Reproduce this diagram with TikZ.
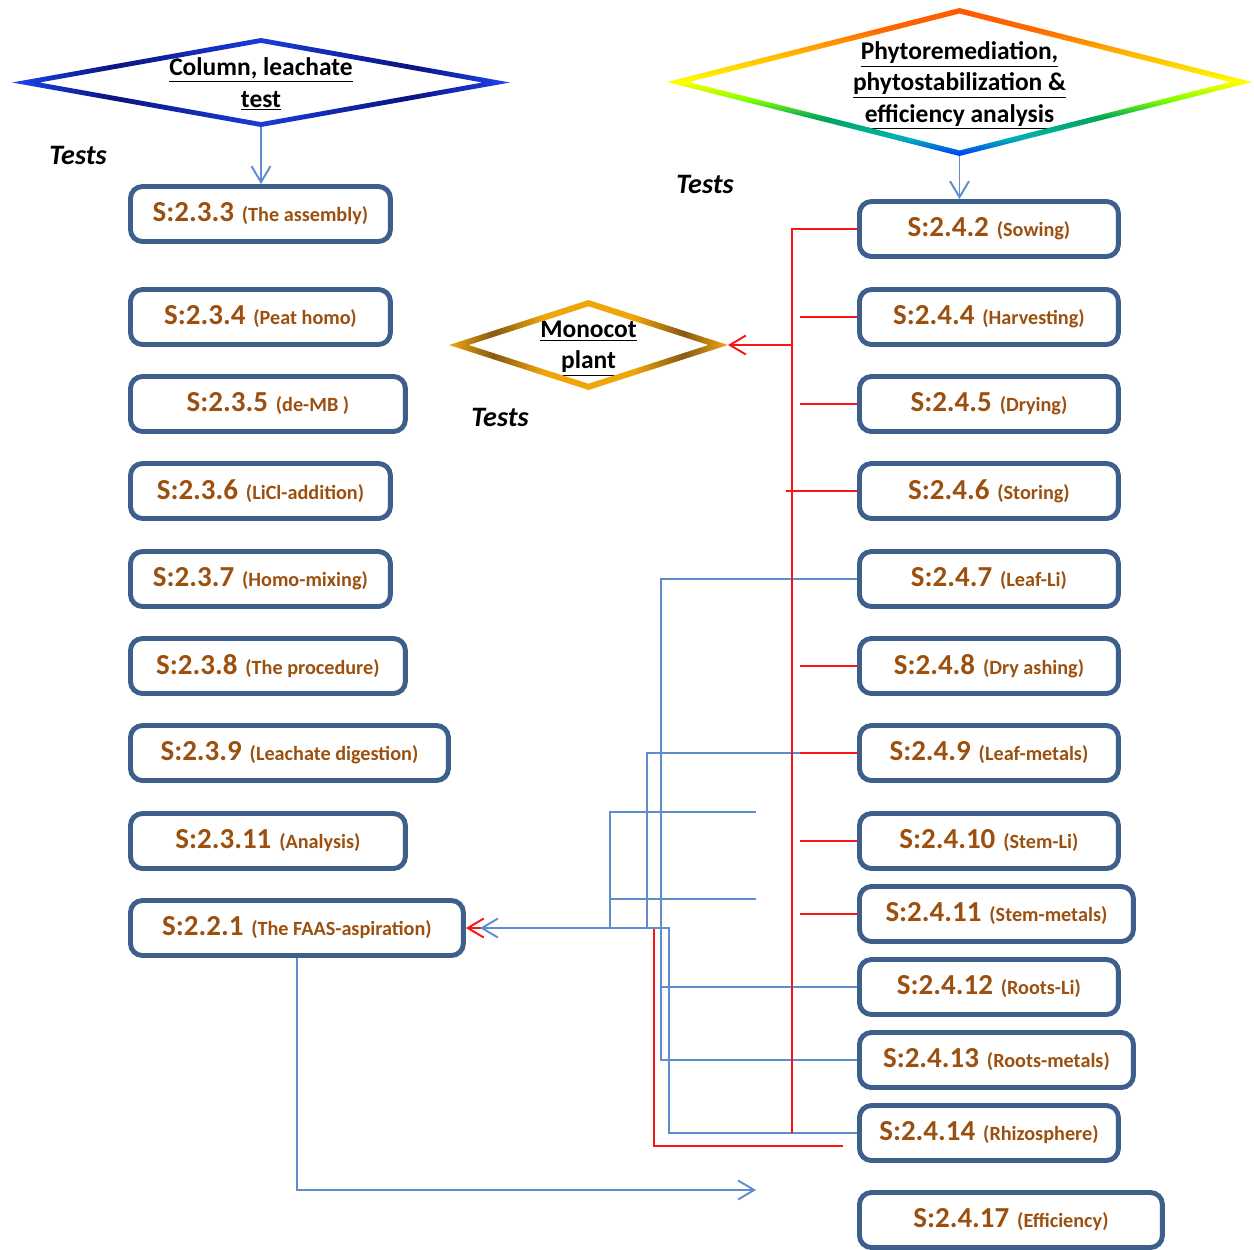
\documentclass[tikz,border=0pt]{standalone}
\usepackage{fontspec}
\setmainfont{Carlito}
\usetikzlibrary{shapes.geometric,arrows.meta,calc}

\definecolor{cajaazul}{RGB}{60,95,140}
\definecolor{cafe}{RGB}{155,80,15}
\definecolor{enlaceazul}{RGB}{95,140,205}
\definecolor{enlacerojo}{RGB}{250,20,20}
\definecolor{azulclaro}{RGB}{30,70,240}
\definecolor{marino}{RGB}{10,20,130}
\definecolor{oro}{RGB}{240,165,10}
\definecolor{oroscuro}{RGB}{135,90,20}

% sombras de los bordes de los rombos
\pgfdeclarehorizontalshading{colsombra}{100bp}{color(0bp)=(azulclaro); color(25bp)=(azulclaro);
  color(35bp)=(marino); color(50bp)=(azulclaro!80!marino); color(65bp)=(marino);
  color(75bp)=(azulclaro); color(100bp)=(azulclaro)}
\pgfdeclareverticalshading{arcoiris}{100bp}{color(0bp)=(blue!80!cyan); color(25bp)=(blue!80!cyan);
  color(31bp)=(teal!60!cyan); color(38bp)=(teal!70!green); color(44bp)=(yellow!50!green);
  color(50bp)=(yellow); color(60bp)=(orange!60!yellow); color(68bp)=(orange!80!red);
  color(75bp)=(orange!70!red); color(100bp)=(orange!70!red)}
\pgfdeclarehorizontalshading{orosombra}{100bp}{color(0bp)=(oro); color(25bp)=(oro);
  color(33bp)=(oroscuro); color(42bp)=(oro); color(50bp)=(oro); color(58bp)=(oro);
  color(67bp)=(oroscuro); color(75bp)=(oro); color(100bp)=(oro)}

\newcommand{\seccion}[2]{{\fontsize{16.5}{19}\selectfont #1}\hspace{4.5pt}{\fontsize{11.5}{14}\selectfont(#2)}}
% borde sombreado de un rombo: nombre, factor interior, sombra
\newcommand{\bordeRombo}[3]{%
  \shade[shading=#3, even odd rule] (#1.west) -- (#1.north) -- (#1.east) -- (#1.south) -- cycle
    ($(#1.center)!#2!(#1.west)$) -- ($(#1.center)!#2!(#1.north)$)
    -- ($(#1.center)!#2!(#1.east)$) -- ($(#1.center)!#2!(#1.south)$) -- cycle;}

\begin{document}
\begin{tikzpicture}[x=0.02cm, y=-0.02cm,
  caja/.style={draw=cajaazul, line width=2.8pt, rounded corners=0.24cm, minimum width=#1,
    minimum height=1.1cm, anchor=west, text=cafe, font=\bfseries},
  caja/.default=5.18cm,
  rombo/.style={diamond, inner sep=0pt, outer sep=0pt, align=center, text depth=-3pt,
    font=\bfseries\fontsize{14.5}{17.8}\selectfont},
  prueba/.style={font=\bfseries\itshape\fontsize{16}{19}\selectfont},
  azul/.style={draw=enlaceazul, line width=1.1pt},
  rojo/.style={draw=enlacerojo, line width=1.1pt},
  punta/.style={-{Straight Barb[length=0.32cm, width=0.38cm]}}]

    \useasboundingbox (0,0) rectangle (1254,1249);

    % Paso 1: rombos de los ensayos
    \node[rombo, aspect=5.6, minimum width=9.96cm, minimum height=1.78cm] (colleach) at (261,82.5)
        {\underline{Column, leachate}\\\underline{test}};
    \bordeRombo{colleach}{0.89}{colsombra}
    \node[rombo, aspect=3.95, minimum width=11.7cm, minimum height=2.96cm] (phyto) at (959.5,82)
        {\underline{Phytoremediation,}\\\underline{phytostabilization \&}\\\underline{efficiency analysis}};
    \bordeRombo{phyto}{0.925}{arcoiris}
    \node[rombo, aspect=3.1, minimum width=5.58cm, minimum height=1.8cm] (monocot) at (588.5,345)
        {\underline{Monocot}\\\underline{plant}};
    \bordeRombo{monocot}{0.86}{orosombra}

    % Paso 2: rotulos
    \node[prueba] (t1) at (78,155) {Tests};
    \node[prueba] (t2) at (705,184) {Tests};
    \node[prueba] (t3) at (500,417) {Tests};

    % Paso 3: columna izquierda
    \node[caja=5.2cm] (b233) at (128,214) {\seccion{S:2.3.3}{The assembly}};
    \node[caja=5.2cm] (b234) at (128,317) {\seccion{S:2.3.4}{Peat homo}};
    \node[caja=5.5cm] (b235) at (128,404) {\seccion{S:2.3.5}{de-MB\ }};
    \node[caja=5.2cm] (b236) at (128,491) {\seccion{S:2.3.6}{LiCl-addition}};
    \node[caja=5.2cm] (b237) at (128,579) {\seccion{S:2.3.7}{Homo-mixing}};
    \node[caja=5.5cm] (b238) at (128,666) {\seccion{S:2.3.8}{The procedure}};
    \node[caja=6.36cm] (b239) at (128,753) {\seccion{S:2.3.9}{Leachate digestion}};
    \node[caja=5.5cm] (b2311) at (128,841) {\seccion{S:2.3.11}{Analysis}};
    \node[caja=6.66cm] (b221) at (128,928) {\seccion{S:2.2.1}{The FAAS-aspiration}};

    % Paso 4: columna derecha
    \node[caja] (b242) at (857,229) {\seccion{S:2.4.2}{Sowing}};
    \node[caja] (b244) at (857,317) {\seccion{S:2.4.4}{Harvesting}};
    \node[caja] (b245) at (857,404) {\seccion{S:2.4.5}{Drying}};
    \node[caja] (b246) at (857,491) {\seccion{S:2.4.6}{Storing}};
    \node[caja] (b247) at (857,579) {\seccion{S:2.4.7}{Leaf-Li}};
    \node[caja] (b248) at (857,666) {\seccion{S:2.4.8}{Dry ashing}};
    \node[caja] (b249) at (857,753) {\seccion{S:2.4.9}{Leaf-metals}};
    \node[caja] (b2410) at (857,841) {\seccion{S:2.4.10}{Stem-Li}};
    \node[caja=5.48cm] (b2411) at (857,914) {\seccion{S:2.4.11}{Stem-metals}};
    \node[caja] (b2412) at (857,987) {\seccion{S:2.4.12}{Roots-Li}};
    \node[caja=5.48cm] (b2413) at (857,1060) {\seccion{S:2.4.13}{Roots-metals}};
    \node[caja] (b2414) at (857,1133) {\seccion{S:2.4.14}{Rhizosphere}};
    \node[caja=6.06cm] (b2417) at (857,1220) {\seccion{S:2.4.17}{Efficiency}};

    % Paso 5: puntos de los buses
    \coordinate (rtop) at (792,229);
    \coordinate (rstub) at (800,0);
    \coordinate (rlarga) at (786,0);
    \coordinate (rx) at (654,0);
    \coordinate (rlibre) at (843,1146);
    \coordinate (bx0) at (610,0);
    \coordinate (bx1) at (647,0);
    \coordinate (bx2) at (661,0);
    \coordinate (bx3) at (669,0);
    \coordinate (blibre1) at (756,812);
    \coordinate (blibre2) at (756,899);
    \coordinate (bpunta) at (480,928);
    \coordinate (efipunta) at (756,1190);

    % Paso 6: enlaces azules (y la esquina roja que queda debajo)
    \draw[rojo, punta] (rlibre) -| (rx |- b221.east) -- (b221.east);
    \draw[azul, punta] (colleach.south) -- (colleach.south |- b233.north);
    \draw[azul, punta] (phyto.south) -- (phyto.south |- b242.north);
    \draw[azul] (b247.west) -| (bx2 |- b2413.west) -- (b2413.west);
    \draw[azul] (b2412.west) -- (bx2 |- b2412.west);
    \draw[azul] (rstub |- b249.west) -| (bx1 |- b221.east);
    \draw[azul] (blibre1) -| (bx0 |- b221.east);
    \draw[azul] (blibre2) -- (bx0 |- blibre2);
    \draw[azul, punta] (b2414.west) -| (bx3 |- b221.east) -- (bpunta);
    \draw[azul, punta] (b221.south) |- (efipunta);

    % Paso 7: bus rojo
    \draw[rojo] (b242.west) -- (rtop) -- (rtop |- b2414.west);
    \draw[rojo, punta] (rtop |- monocot.east) -- (monocot.east);
    \foreach \b in {b244,b245,b248,b249,b2410,b2411}
        \draw[rojo] (\b.west) -- (rstub |- \b.west);
    \draw[rojo] (b246.west) -- (rlarga |- b246.west);
\end{tikzpicture}
\end{document}
